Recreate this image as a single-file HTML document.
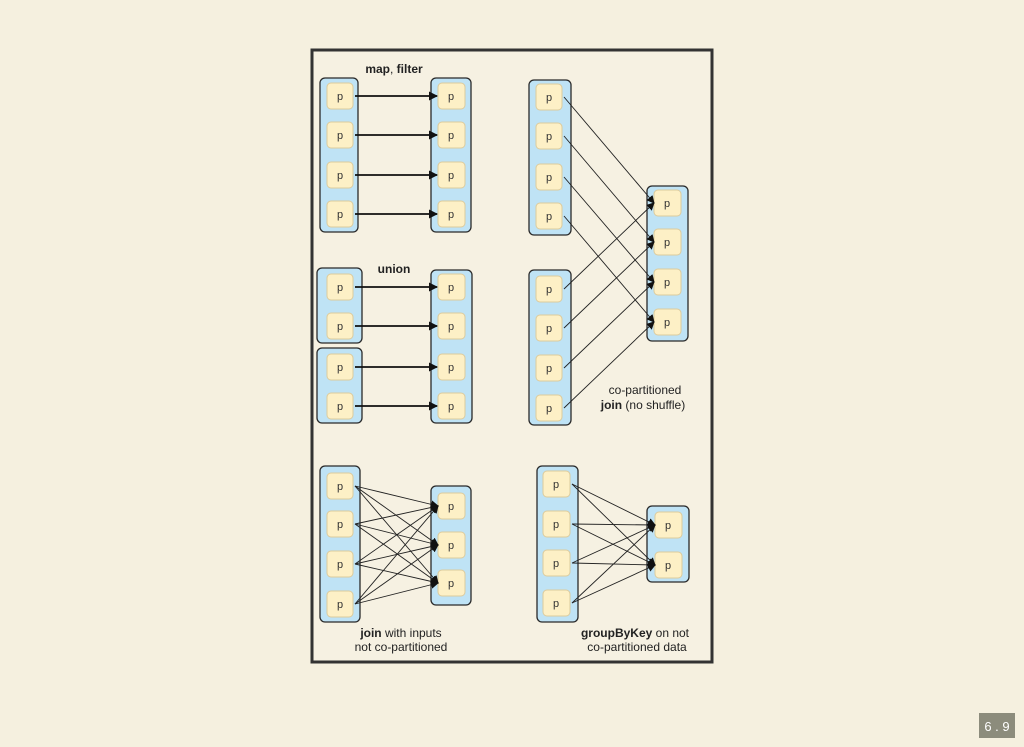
<!DOCTYPE html>
<html><head><meta charset="utf-8"><style>
html,body{margin:0;padding:0;background:#f5f0df;}
svg{display:block;font-family:"Liberation Sans",sans-serif;}
.c{fill:#bfe3f5;stroke:#2a2a2a;stroke-width:1.3;}
.p{fill:#fdf0c6;stroke:#dccb9c;stroke-width:1;}
.t{font-size:11px;fill:#333;text-anchor:middle;}
.l{stroke:#111;stroke-width:1.8;}
.m{stroke:#222;stroke-width:0.9;}
.lb{font-size:12px;fill:#222;text-anchor:middle;}
</style></head><body>
<svg width="1024" height="747" viewBox="0 0 1024 747">
<defs>
<marker id="a" markerWidth="8" markerHeight="8" refX="7" refY="4" orient="auto" markerUnits="userSpaceOnUse"><path d="M0,0 L8,4 L0,8 z" fill="#111"/></marker>
<marker id="b" markerWidth="9" markerHeight="9" refX="8" refY="4.5" orient="auto" markerUnits="userSpaceOnUse"><path d="M0,0 L9,4.5 L0,9 z" fill="#111"/></marker>
</defs>
<rect x="0" y="0" width="1024" height="747" fill="#f5f0df"/>
<rect x="312" y="50" width="400" height="612" fill="#f6f1e2" stroke="#333" stroke-width="3"/>

<!-- map, filter -->
<text x="394" y="73" class="lb" font-weight="bold">map<tspan font-weight="normal">,</tspan> filter</text>
<rect class="c" x="320" y="78" width="38" height="154" rx="5"/>
<rect class="c" x="431" y="78" width="40" height="154" rx="5"/>
<g>
<rect class="p" x="327" y="83" width="26" height="26" rx="4"/><text class="t" x="340" y="100">p</text>
<rect class="p" x="327" y="122" width="26" height="26" rx="4"/><text class="t" x="340" y="139">p</text>
<rect class="p" x="327" y="162" width="26" height="26" rx="4"/><text class="t" x="340" y="179">p</text>
<rect class="p" x="327" y="201" width="26" height="26" rx="4"/><text class="t" x="340" y="218">p</text>
<rect class="p" x="438" y="83" width="27" height="26" rx="4"/><text class="t" x="451" y="100">p</text>
<rect class="p" x="438" y="122" width="27" height="26" rx="4"/><text class="t" x="451" y="139">p</text>
<rect class="p" x="438" y="162" width="27" height="26" rx="4"/><text class="t" x="451" y="179">p</text>
<rect class="p" x="438" y="201" width="27" height="26" rx="4"/><text class="t" x="451" y="218">p</text>
</g>
<line class="l" x1="355" y1="96" x2="437" y2="96" marker-end="url(#b)"/>
<line class="l" x1="355" y1="135" x2="437" y2="135" marker-end="url(#b)"/>
<line class="l" x1="355" y1="175" x2="437" y2="175" marker-end="url(#b)"/>
<line class="l" x1="355" y1="214" x2="437" y2="214" marker-end="url(#b)"/>

<!-- union -->
<text x="394" y="273" class="lb" font-weight="bold">union</text>
<rect class="c" x="317" y="268" width="45" height="75" rx="5"/>
<rect class="c" x="317" y="348" width="45" height="75" rx="5"/>
<rect class="c" x="431" y="270" width="41" height="153" rx="5"/>
<rect class="p" x="327" y="274" width="26" height="26" rx="4"/><text class="t" x="340" y="291">p</text>
<rect class="p" x="327" y="313" width="26" height="26" rx="4"/><text class="t" x="340" y="330">p</text>
<rect class="p" x="327" y="354" width="26" height="26" rx="4"/><text class="t" x="340" y="371">p</text>
<rect class="p" x="327" y="393" width="26" height="26" rx="4"/><text class="t" x="340" y="410">p</text>
<rect class="p" x="438" y="274" width="27" height="26" rx="4"/><text class="t" x="451" y="291">p</text>
<rect class="p" x="438" y="313" width="27" height="26" rx="4"/><text class="t" x="451" y="330">p</text>
<rect class="p" x="438" y="354" width="27" height="26" rx="4"/><text class="t" x="451" y="371">p</text>
<rect class="p" x="438" y="393" width="27" height="26" rx="4"/><text class="t" x="451" y="410">p</text>
<line class="l" x1="355" y1="287" x2="437" y2="287" marker-end="url(#b)"/>
<line class="l" x1="355" y1="326" x2="437" y2="326" marker-end="url(#b)"/>
<line class="l" x1="355" y1="367" x2="437" y2="367" marker-end="url(#b)"/>
<line class="l" x1="355" y1="406" x2="437" y2="406" marker-end="url(#b)"/>

<!-- co-partitioned join -->
<rect class="c" x="529" y="80" width="42" height="155" rx="5"/>
<rect class="c" x="529" y="270" width="42" height="155" rx="5"/>
<rect class="c" x="647" y="186" width="41" height="155" rx="5"/>
<rect class="p" x="536" y="84" width="26" height="26" rx="4"/><text class="t" x="549" y="101">p</text>
<rect class="p" x="536" y="123" width="26" height="26" rx="4"/><text class="t" x="549" y="140">p</text>
<rect class="p" x="536" y="164" width="26" height="26" rx="4"/><text class="t" x="549" y="181">p</text>
<rect class="p" x="536" y="203" width="26" height="26" rx="4"/><text class="t" x="549" y="220">p</text>
<rect class="p" x="536" y="276" width="26" height="26" rx="4"/><text class="t" x="549" y="293">p</text>
<rect class="p" x="536" y="315" width="26" height="26" rx="4"/><text class="t" x="549" y="332">p</text>
<rect class="p" x="536" y="355" width="26" height="26" rx="4"/><text class="t" x="549" y="372">p</text>
<rect class="p" x="536" y="395" width="26" height="26" rx="4"/><text class="t" x="549" y="412">p</text>
<rect class="p" x="654" y="190" width="27" height="26" rx="4"/><text class="t" x="667" y="207">p</text>
<rect class="p" x="654" y="229" width="27" height="26" rx="4"/><text class="t" x="667" y="246">p</text>
<rect class="p" x="654" y="269" width="27" height="26" rx="4"/><text class="t" x="667" y="286">p</text>
<rect class="p" x="654" y="309" width="27" height="26" rx="4"/><text class="t" x="667" y="326">p</text>
<g class="m" marker-end="url(#a)">
<line class="m" x1="564" y1="97" x2="654" y2="203" marker-end="url(#a)"/>
<line class="m" x1="564" y1="136" x2="654" y2="242" marker-end="url(#a)"/>
<line class="m" x1="564" y1="177" x2="654" y2="282" marker-end="url(#a)"/>
<line class="m" x1="564" y1="216" x2="654" y2="322" marker-end="url(#a)"/>
<line class="m" x1="564" y1="289" x2="654" y2="203" marker-end="url(#a)"/>
<line class="m" x1="564" y1="328" x2="654" y2="242" marker-end="url(#a)"/>
<line class="m" x1="564" y1="368" x2="654" y2="282" marker-end="url(#a)"/>
<line class="m" x1="564" y1="408" x2="654" y2="322" marker-end="url(#a)"/>
</g>
<text x="645" y="394" class="lb">co-partitioned</text>
<text x="643" y="409" class="lb"><tspan font-weight="bold">join</tspan> (no shuffle)</text>

<!-- join not co-partitioned -->
<rect class="c" x="320" y="466" width="40" height="156" rx="5"/>
<rect class="c" x="431" y="486" width="40" height="119" rx="5"/>
<rect class="p" x="327" y="473" width="26" height="26" rx="4"/><text class="t" x="340" y="490">p</text>
<rect class="p" x="327" y="511" width="26" height="26" rx="4"/><text class="t" x="340" y="528">p</text>
<rect class="p" x="327" y="551" width="26" height="26" rx="4"/><text class="t" x="340" y="568">p</text>
<rect class="p" x="327" y="591" width="26" height="26" rx="4"/><text class="t" x="340" y="608">p</text>
<rect class="p" x="438" y="493" width="27" height="26" rx="4"/><text class="t" x="451" y="510">p</text>
<rect class="p" x="438" y="532" width="27" height="26" rx="4"/><text class="t" x="451" y="549">p</text>
<rect class="p" x="438" y="570" width="27" height="26" rx="4"/><text class="t" x="451" y="587">p</text>
<line class="m" x1="355" y1="486" x2="438" y2="506" marker-end="url(#a)"/>
<line class="m" x1="355" y1="486" x2="438" y2="545" marker-end="url(#a)"/>
<line class="m" x1="355" y1="486" x2="438" y2="583" marker-end="url(#a)"/>
<line class="m" x1="355" y1="524" x2="438" y2="506" marker-end="url(#a)"/>
<line class="m" x1="355" y1="524" x2="438" y2="545" marker-end="url(#a)"/>
<line class="m" x1="355" y1="524" x2="438" y2="583" marker-end="url(#a)"/>
<line class="m" x1="355" y1="564" x2="438" y2="506" marker-end="url(#a)"/>
<line class="m" x1="355" y1="564" x2="438" y2="545" marker-end="url(#a)"/>
<line class="m" x1="355" y1="564" x2="438" y2="583" marker-end="url(#a)"/>
<line class="m" x1="355" y1="604" x2="438" y2="506" marker-end="url(#a)"/>
<line class="m" x1="355" y1="604" x2="438" y2="545" marker-end="url(#a)"/>
<line class="m" x1="355" y1="604" x2="438" y2="583" marker-end="url(#a)"/>
<text x="401" y="637" class="lb"><tspan font-weight="bold">join</tspan> with inputs</text>
<text x="401" y="651" class="lb">not co-partitioned</text>

<!-- groupByKey -->
<rect class="c" x="537" y="466" width="41" height="156" rx="5"/>
<rect class="c" x="647" y="506" width="42" height="76" rx="5"/>
<rect class="p" x="543" y="471" width="27" height="26" rx="4"/><text class="t" x="556" y="488">p</text>
<rect class="p" x="543" y="511" width="27" height="26" rx="4"/><text class="t" x="556" y="528">p</text>
<rect class="p" x="543" y="550" width="27" height="26" rx="4"/><text class="t" x="556" y="567">p</text>
<rect class="p" x="543" y="590" width="27" height="26" rx="4"/><text class="t" x="556" y="607">p</text>
<rect class="p" x="655" y="512" width="27" height="26" rx="4"/><text class="t" x="668" y="529">p</text>
<rect class="p" x="655" y="552" width="27" height="26" rx="4"/><text class="t" x="668" y="569">p</text>
<line class="m" x1="572" y1="484" x2="655" y2="525" marker-end="url(#a)"/>
<line class="m" x1="572" y1="484" x2="655" y2="565" marker-end="url(#a)"/>
<line class="m" x1="572" y1="524" x2="655" y2="525" marker-end="url(#a)"/>
<line class="m" x1="572" y1="524" x2="655" y2="565" marker-end="url(#a)"/>
<line class="m" x1="572" y1="563" x2="655" y2="525" marker-end="url(#a)"/>
<line class="m" x1="572" y1="563" x2="655" y2="565" marker-end="url(#a)"/>
<line class="m" x1="572" y1="603" x2="655" y2="525" marker-end="url(#a)"/>
<line class="m" x1="572" y1="603" x2="655" y2="565" marker-end="url(#a)"/>
<text x="635" y="637" class="lb"><tspan font-weight="bold">groupByKey</tspan> on not</text>
<text x="637" y="651" class="lb">co-partitioned data</text>

<!-- page number -->
<rect x="979" y="713" width="36" height="25" fill="#8c8c7c"/>
<text x="997" y="731" font-size="13" fill="#fff" text-anchor="middle">6 . 9</text>
</svg>
</body></html>
